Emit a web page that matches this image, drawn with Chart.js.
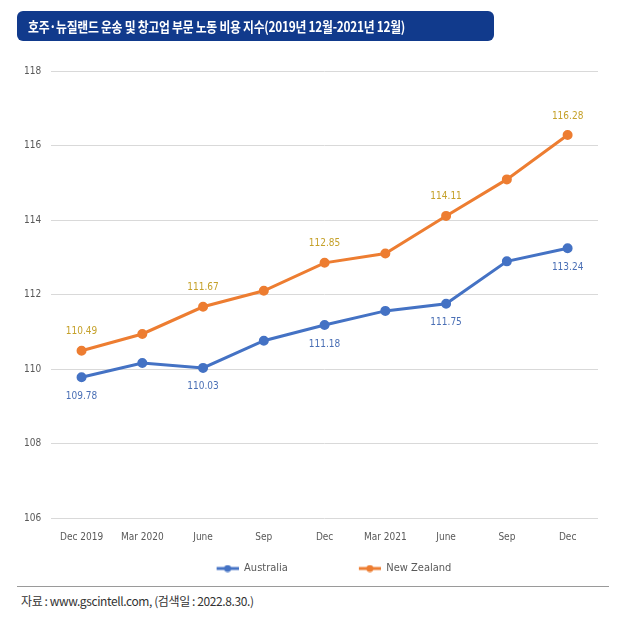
<!DOCTYPE html>
<html>
<head>
<meta charset="utf-8">
<script src="https://cdn.jsdelivr.net/npm/chart.js@4"></script>
<style>
  body { margin: 0; background: #fff; }
  #wrap { position: relative; width: 642px; height: 624px; }
  #title {
    position: absolute; left: 17px; top: 11px; width: 477px; height: 30px;
    background: #113a8c; border-radius: 6px; color: #fff; overflow: hidden;
    font-family: 'Noto Sans CJK KR', sans-serif; font-weight: bold; font-size: 14px;
    line-height: 30px; box-sizing: border-box; white-space: nowrap;
  }
  #title span { display: inline-block; margin-left: 11px; transform: scaleX(0.845); transform-origin: left center; letter-spacing: -0.3px; }
  #src {
    position: absolute; left: 17px; top: 586px; width: 588px; border-top: 1px solid #9a9a9a;
    font-family: 'Noto Sans CJK KR', sans-serif; font-size: 12px; color: #333;
    padding-top: 5px; padding-left: 4px; letter-spacing: -0.4px;
  }
  canvas { position: absolute; left: 0; top: 0; }
</style>
</head>
<body>
<div id="wrap">
  <canvas id="chart" width="642" height="584"></canvas>
  <div id="title"><span>호주·뉴질랜드 운송 및 창고업 부문 노동 비용 지수(2019년 12월-2021년 12월)</span></div>
  <div id="src">자료 : www.gscintell.com, (검색일 : 2022.8.30.)</div>
</div>
<script>
// quarters
const categories = ['Dec 2019', 'Mar 2020', 'June', 'Sep', 'Dec', 'Mar 2021', 'June', 'Sep', 'Dec'];
const australia = [109.78, 110.16, 110.03, 110.76, 111.18, 111.56, 111.75, 112.89, 113.24];
const newZealand = [110.49, 110.94, 111.67, 112.10, 112.85, 113.10, 114.11, 115.09, 116.28];
const labelIdx = [0, 2, 4, 6, 8];
const yTicks = [106, 108, 110, 112, 114, 116, 118];

const narrow = "'Liberation Sans Narrow', 'DejaVu Sans Condensed', sans-serif";
const blue = '#4472c4';
const orange = '#ed7d31';

// line+dot marker for the legend, with empty room on the left for spacing
function legendMark(color) {
  const c = document.createElement('canvas');
  c.width = 78; c.height = 8;
  const g = c.getContext('2d');
  g.strokeStyle = color; g.lineWidth = 3;
  g.beginPath(); g.moveTo(56, 4); g.lineTo(78, 4); g.stroke();
  g.fillStyle = color;
  g.beginPath(); g.arc(67, 4, 3.5, 0, Math.PI * 2); g.fill();
  return c;
}

const valueLabels = {
  id: 'valueLabels',
  afterDatasetsDraw(chart) {
    const ctx = chart.ctx;
    ctx.save();
    ctx.font = '10px ' + narrow;
    ctx.textAlign = 'center';
    ctx.textBaseline = 'middle';
    chart.data.datasets.forEach((ds, di) => {
      const meta = chart.getDatasetMeta(di);
      labelIdx.forEach(i => {
        const p = meta.data[i];
        ctx.fillStyle = ds.labelColor;
        ctx.fillText(ds.data[i].toFixed(2), p.x, p.y + ds.labelOffset);
      });
    });
    ctx.restore();
  }
};

new Chart(document.getElementById('chart'), {
  type: 'line',
  data: {
    labels: categories,
    datasets: [
      {
        label: 'Australia', data: australia, borderColor: blue, backgroundColor: blue,
        borderWidth: 3, pointRadius: 3.5, labelColor: '#4a6fb5', labelOffset: 19
      },
      {
        label: 'New Zealand', data: newZealand, borderColor: orange, backgroundColor: orange,
        borderWidth: 3, pointRadius: 3.5, labelColor: '#c5a12a', labelOffset: -19
      }
    ]
  },
  options: {
    responsive: false,
    animation: false,
    layout: { padding: { left: 14, right: 44, top: 71, bottom: 0 } },
    plugins: {
      legend: {
        position: 'bottom',
        labels: {
          usePointStyle: true,
          pointStyleWidth: 78,
          padding: 15,
          color: '#595959',
          font: { family: narrow, size: 11 },
          generateLabels(chart) {
            return chart.data.datasets.map((ds, i) => ({
              text: ds.label, pointStyle: legendMark(ds.borderColor),
              fillStyle: ds.borderColor, strokeStyle: ds.borderColor,
              lineWidth: 0, hidden: false, datasetIndex: i, fontColor: '#595959'
            }));
          }
        }
      },
      tooltip: { enabled: false }
    },
    scales: {
      x: {
        offset: true,
        grid: { display: false },
        border: { display: false },
        ticks: { color: '#595959', font: { family: narrow, size: 10 }, padding: 5, maxRotation: 0 }
      },
      y: {
        min: 106, max: 118,
        afterBuildTicks(axis) { axis.ticks = yTicks.map(v => ({ value: v })); },
        grid: { color: '#d9d9d9', drawTicks: false },
        border: { display: false },
        ticks: { color: '#595959', font: { family: narrow, size: 10 }, padding: 10 }
      }
    }
  },
  plugins: [valueLabels]
});
</script>
</body>
</html>
